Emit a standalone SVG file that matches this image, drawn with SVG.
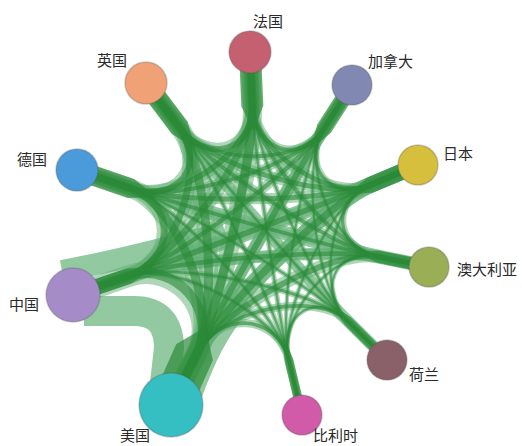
<svg xmlns="http://www.w3.org/2000/svg" width="522" height="446" viewBox="0 0 522 446">
<style>
.band{fill:none;stroke:#6ab47c;stroke-opacity:0.72}
.b{fill:none;stroke:#5fae72;stroke-opacity:0.5}
.e{fill:none;stroke:#2a8837;stroke-opacity:0.6}
.stem{fill:#2b8a38;fill-opacity:0.7;stroke:none}
.lbl{font-family:"Noto Sans CJK SC","Noto Sans",sans-serif;font-size:15px;fill:#2a2a2a}
.node circle{stroke-width:1.5;stroke-opacity:0.3;stroke:#555}
</style>
<defs>
<path id="p01" d="M250,52 L252.4,106 C254.4,151 300.3,165.9 323.8,129.1 L352,85"/>
<path id="p02" d="M250,52 L252.4,106 C254.4,151 330,201.9 370,185.1 L418,165"/>
<path id="p03" d="M250,52 L252.4,106 C254.4,151 335,247.8 377.7,256.5 L429,267"/>
<path id="p04" d="M250,52 L252.4,106 C254.4,151 316.1,289.6 348.3,321.6 L387,360"/>
<path id="p05" d="M250,52 L252.4,106 C254.4,151 277.8,314.4 288.8,360.1 L302,415"/>
<path id="p06" d="M250,52 L252.4,106 C254.4,151 218.9,309.9 197.1,353.1 L171,405"/>
<path id="p07" d="M250,52 L252.4,106 C254.4,151 174.8,260.4 128.5,276.1 L73,295"/>
<path id="p08" d="M250,52 L252.4,106 C254.4,151 176.6,204.1 131.3,188.6 L77,170"/>
<path id="p09" d="M250,52 L252.4,106 C254.4,151 207.6,165 179.6,127.7 L146,83"/>
<path id="p12" d="M352,85 L323.8,129.1 C300.3,165.9 330,201.9 370,185.1 L418,165"/>
<path id="p13" d="M352,85 L323.8,129.1 C300.3,165.9 335,247.8 377.7,256.5 L429,267"/>
<path id="p14" d="M352,85 L323.8,129.1 C300.3,165.9 316.1,289.6 348.3,321.6 L387,360"/>
<path id="p15" d="M352,85 L323.8,129.1 C300.3,165.9 277.8,314.4 288.8,360.1 L302,415"/>
<path id="p16" d="M352,85 L323.8,129.1 C300.3,165.9 218.9,309.9 197.1,353.1 L171,405"/>
<path id="p17" d="M352,85 L323.8,129.1 C300.3,165.9 174.8,260.4 128.5,276.1 L73,295"/>
<path id="p18" d="M352,85 L323.8,129.1 C300.3,165.9 176.6,204.1 131.3,188.6 L77,170"/>
<path id="p19" d="M352,85 L323.8,129.1 C300.3,165.9 207.6,165 179.6,127.7 L146,83"/>
<path id="p23" d="M418,165 L370,185.1 C330,201.9 335,247.8 377.7,256.5 L429,267"/>
<path id="p24" d="M418,165 L370,185.1 C330,201.9 316.1,289.6 348.3,321.6 L387,360"/>
<path id="p25" d="M418,165 L370,185.1 C330,201.9 277.8,314.4 288.8,360.1 L302,415"/>
<path id="p26" d="M418,165 L370,185.1 C330,201.9 218.9,309.9 197.1,353.1 L171,405"/>
<path id="p27" d="M418,165 L370,185.1 C330,201.9 174.8,260.4 128.5,276.1 L73,295"/>
<path id="p28" d="M418,165 L370,185.1 C330,201.9 176.6,204.1 131.3,188.6 L77,170"/>
<path id="p29" d="M418,165 L370,185.1 C330,201.9 207.6,165 179.6,127.7 L146,83"/>
<path id="p34" d="M429,267 L377.7,256.5 C335,247.8 316.1,289.6 348.3,321.6 L387,360"/>
<path id="p35" d="M429,267 L377.7,256.5 C335,247.8 277.8,314.4 288.8,360.1 L302,415"/>
<path id="p36" d="M429,267 L377.7,256.5 C335,247.8 218.9,309.9 197.1,353.1 L171,405"/>
<path id="p37" d="M429,267 L377.7,256.5 C335,247.8 174.8,260.4 128.5,276.1 L73,295"/>
<path id="p38" d="M429,267 L377.7,256.5 C335,247.8 176.6,204.1 131.3,188.6 L77,170"/>
<path id="p39" d="M429,267 L377.7,256.5 C335,247.8 207.6,165 179.6,127.7 L146,83"/>
<path id="p45" d="M387,360 L348.3,321.6 C316.1,289.6 277.8,314.4 288.8,360.1 L302,415"/>
<path id="p46" d="M387,360 L348.3,321.6 C316.1,289.6 218.9,309.9 197.1,353.1 L171,405"/>
<path id="p47" d="M387,360 L348.3,321.6 C316.1,289.6 174.8,260.4 128.5,276.1 L73,295"/>
<path id="p48" d="M387,360 L348.3,321.6 C316.1,289.6 176.6,204.1 131.3,188.6 L77,170"/>
<path id="p49" d="M387,360 L348.3,321.6 C316.1,289.6 207.6,165 179.6,127.7 L146,83"/>
<path id="p56" d="M302,415 L288.8,360.1 C277.8,314.4 218.9,309.9 197.1,353.1 L171,405"/>
<path id="p57" d="M302,415 L288.8,360.1 C277.8,314.4 174.8,260.4 128.5,276.1 L73,295"/>
<path id="p58" d="M302,415 L288.8,360.1 C277.8,314.4 176.6,204.1 131.3,188.6 L77,170"/>
<path id="p59" d="M302,415 L288.8,360.1 C277.8,314.4 207.6,165 179.6,127.7 L146,83"/>
<path id="p67" d="M171,405 L197.1,353.1 C218.9,309.9 174.8,260.4 128.5,276.1 L73,295"/>
<path id="p68" d="M171,405 L197.1,353.1 C218.9,309.9 176.6,204.1 131.3,188.6 L77,170"/>
<path id="p69" d="M171,405 L197.1,353.1 C218.9,309.9 207.6,165 179.6,127.7 L146,83"/>
<path id="p78" d="M73,295 L128.5,276.1 C174.8,260.4 176.6,204.1 131.3,188.6 L77,170"/>
<path id="p79" d="M73,295 L128.5,276.1 C174.8,260.4 207.6,165 179.6,127.7 L146,83"/>
<path id="p89" d="M77,170 L131.3,188.6 C176.6,204.1 207.6,165 179.6,127.7 L146,83"/>
</defs>
<rect width="522" height="446" fill="#ffffff"/>
<g id="connectors">
<path class="band" stroke-width="30" d="M84,311 L134,311 Q169,311 169,348 L164,392"/>
<path class="band" stroke-width="22" d="M62,271 C110,262 160,250 225,232"/>
<use href="#p27" class="band" stroke-width="16"/>
<path class="band" stroke-width="20" d="M192,395 C205,360 218,330 245,300"/>
<use href="#p26" class="band" stroke-width="16"/>
<use href="#p38" class="band" stroke-width="14"/>
<use href="#p49" class="band" stroke-width="12"/>
<use href="#p16" class="band" stroke-width="12"/>
<use href="#p06" class="band" stroke-width="10"/>
<use href="#p37" class="band" stroke-width="12"/>

<use href="#p01" class="b" stroke-width="8.6"/>
<use href="#p02" class="b" stroke-width="10.8"/>
<use href="#p03" class="b" stroke-width="8.6"/>
<use href="#p04" class="b" stroke-width="5.3"/>
<use href="#p05" class="b" stroke-width="5.3"/>
<use href="#p06" class="b" stroke-width="19"/>
<use href="#p07" class="b" stroke-width="15"/>
<use href="#p08" class="b" stroke-width="13"/>
<use href="#p09" class="b" stroke-width="13"/>
<use href="#p12" class="b" stroke-width="7.2"/>
<use href="#p13" class="b" stroke-width="5.8"/>
<use href="#p14" class="b" stroke-width="4.3"/>
<use href="#p15" class="b" stroke-width="4.3"/>
<use href="#p16" class="b" stroke-width="13"/>
<use href="#p17" class="b" stroke-width="10"/>
<use href="#p18" class="b" stroke-width="8.6"/>
<use href="#p19" class="b" stroke-width="8.6"/>
<use href="#p23" class="b" stroke-width="7.2"/>
<use href="#p24" class="b" stroke-width="4.6"/>
<use href="#p25" class="b" stroke-width="4.6"/>
<use href="#p26" class="b" stroke-width="16"/>
<use href="#p27" class="b" stroke-width="12.5"/>
<use href="#p28" class="b" stroke-width="10.8"/>
<use href="#p29" class="b" stroke-width="10.8"/>
<use href="#p34" class="b" stroke-width="4.3"/>
<use href="#p35" class="b" stroke-width="4.3"/>
<use href="#p36" class="b" stroke-width="13"/>
<use href="#p37" class="b" stroke-width="10"/>
<use href="#p38" class="b" stroke-width="8.6"/>
<use href="#p39" class="b" stroke-width="8.6"/>
<use href="#p45" class="b" stroke-width="4.3"/>
<use href="#p46" class="b" stroke-width="8.2"/>
<use href="#p47" class="b" stroke-width="6.2"/>
<use href="#p48" class="b" stroke-width="5.3"/>
<use href="#p49" class="b" stroke-width="5.3"/>
<use href="#p56" class="b" stroke-width="8.2"/>
<use href="#p57" class="b" stroke-width="6.2"/>
<use href="#p58" class="b" stroke-width="5.3"/>
<use href="#p59" class="b" stroke-width="5.3"/>
<use href="#p67" class="b" stroke-width="22"/>
<use href="#p68" class="b" stroke-width="19"/>
<use href="#p69" class="b" stroke-width="19"/>
<use href="#p78" class="b" stroke-width="15"/>
<use href="#p79" class="b" stroke-width="15"/>
<use href="#p89" class="b" stroke-width="13"/>

<use href="#p01" class="e" stroke-width="4"/>
<use href="#p02" class="e" stroke-width="5"/>
<use href="#p03" class="e" stroke-width="4"/>
<use href="#p04" class="e" stroke-width="2.4"/>
<use href="#p05" class="e" stroke-width="2.4"/>
<use href="#p06" class="e" stroke-width="8.8"/>
<use href="#p07" class="e" stroke-width="7"/>
<use href="#p08" class="e" stroke-width="6"/>
<use href="#p09" class="e" stroke-width="6"/>
<use href="#p12" class="e" stroke-width="3.3"/>
<use href="#p13" class="e" stroke-width="2.6"/>
<use href="#p14" class="e" stroke-width="2"/>
<use href="#p15" class="e" stroke-width="2"/>
<use href="#p16" class="e" stroke-width="6"/>
<use href="#p17" class="e" stroke-width="4.6"/>
<use href="#p18" class="e" stroke-width="4"/>
<use href="#p19" class="e" stroke-width="4"/>
<use href="#p23" class="e" stroke-width="3.3"/>
<use href="#p24" class="e" stroke-width="2.1"/>
<use href="#p25" class="e" stroke-width="2.1"/>
<use href="#p26" class="e" stroke-width="7.5"/>
<use href="#p27" class="e" stroke-width="5.7"/>
<use href="#p28" class="e" stroke-width="5"/>
<use href="#p29" class="e" stroke-width="5"/>
<use href="#p34" class="e" stroke-width="2"/>
<use href="#p35" class="e" stroke-width="2"/>
<use href="#p36" class="e" stroke-width="6"/>
<use href="#p37" class="e" stroke-width="4.6"/>
<use href="#p38" class="e" stroke-width="4"/>
<use href="#p39" class="e" stroke-width="4"/>
<use href="#p45" class="e" stroke-width="2"/>
<use href="#p46" class="e" stroke-width="3.7"/>
<use href="#p47" class="e" stroke-width="2.9"/>
<use href="#p48" class="e" stroke-width="2.4"/>
<use href="#p49" class="e" stroke-width="2.4"/>
<use href="#p56" class="e" stroke-width="3.7"/>
<use href="#p57" class="e" stroke-width="2.9"/>
<use href="#p58" class="e" stroke-width="2.4"/>
<use href="#p59" class="e" stroke-width="2.4"/>
<use href="#p67" class="e" stroke-width="10"/>
<use href="#p68" class="e" stroke-width="8.8"/>
<use href="#p69" class="e" stroke-width="8.8"/>
<use href="#p78" class="e" stroke-width="7"/>
<use href="#p79" class="e" stroke-width="7"/>
<use href="#p89" class="e" stroke-width="6"/>

<path class="stem" transform="translate(250,52) rotate(87.5)" d="M0,-11 L54,-11 Q66.5,-5.5 79,0 Q66.5,5.5 54,11 L0,11 Z"/>
<path class="stem" transform="translate(352,85) rotate(122.6)" d="M0,-8 L52,-8 Q64.5,-4 77,0 Q64.5,4 52,8 L0,8 Z"/>
<path class="stem" transform="translate(418,165) rotate(157.3)" d="M0,-8 L52,-8 Q64,-4 76,0 Q64,4 52,8 L0,8 Z"/>
<path class="stem" transform="translate(429,267) rotate(-168.4)" d="M0,-6 L52,-6 Q64.5,-3 77,0 Q64.5,3 52,6 L0,6 Z"/>
<path class="stem" transform="translate(387,360) rotate(-135.2)" d="M0,-5 L55,-5 Q67.5,-2.5 80,0 Q67.5,2.5 55,5 L0,5 Z"/>
<path class="stem" transform="translate(302,415) rotate(-103.5)" d="M0,-4.5 L56,-4.5 Q69.5,-2.2 83,0 Q69.5,2.2 56,4.5 L0,4.5 Z"/>
<path class="stem" transform="translate(171,405) rotate(-66)" d="M0,-20 L58,-20 Q71.5,-10 85,0 Q71.5,10 58,20 L0,20 Z"/>
<path class="stem" transform="translate(73,295) rotate(-18.8)" d="M0,-8 L59,-8 Q72.5,-4 86,0 Q72.5,4 59,8 L0,8 Z"/>
<path class="stem" transform="translate(77,170) rotate(18.9)" d="M0,-10 L57,-10 Q70.5,-5 84,0 Q70.5,5 57,10 L0,10 Z"/>
<path class="stem" transform="translate(146,83) rotate(53.1)" d="M0,-10 L56,-10 Q69,-5 82,0 Q69,5 56,10 L0,10 Z"/>
</g>
<g id="n-fr" class="node"><circle cx="250" cy="52" r="21" fill="#c4606f"/><text class="lbl" x="253" y="27">法国</text></g>
<g id="n-ca" class="node"><circle cx="352" cy="85" r="20" fill="#8189b3"/><text class="lbl" x="368" y="67">加拿大</text></g>
<g id="n-jp" class="node"><circle cx="418" cy="165" r="20" fill="#d6bf3c"/><text class="lbl" x="443" y="159">日本</text></g>
<g id="n-au" class="node"><circle cx="429" cy="267" r="20" fill="#9aae55"/><text class="lbl" x="457" y="275">澳大利亚</text></g>
<g id="n-nl" class="node"><circle cx="387" cy="360" r="20" fill="#8b6169"/><text class="lbl" x="409" y="380">荷兰</text></g>
<g id="n-be" class="node"><circle cx="302" cy="415" r="20" fill="#d15aa9"/><text class="lbl" x="313" y="441">比利时</text></g>
<g id="n-us" class="node"><circle cx="171" cy="405" r="32" fill="#35bfc3"/><text class="lbl" x="120" y="441">美国</text></g>
<g id="n-cn" class="node"><circle cx="73" cy="295" r="27" fill="#a68bc9"/><text class="lbl" x="9" y="310">中国</text></g>
<g id="n-de" class="node"><circle cx="77" cy="170" r="21" fill="#4b9ad9"/><text class="lbl" x="17" y="165">德国</text></g>
<g id="n-uk" class="node"><circle cx="146" cy="83" r="21" fill="#f0a276"/><text class="lbl" x="97" y="66">英国</text></g>
</svg>
